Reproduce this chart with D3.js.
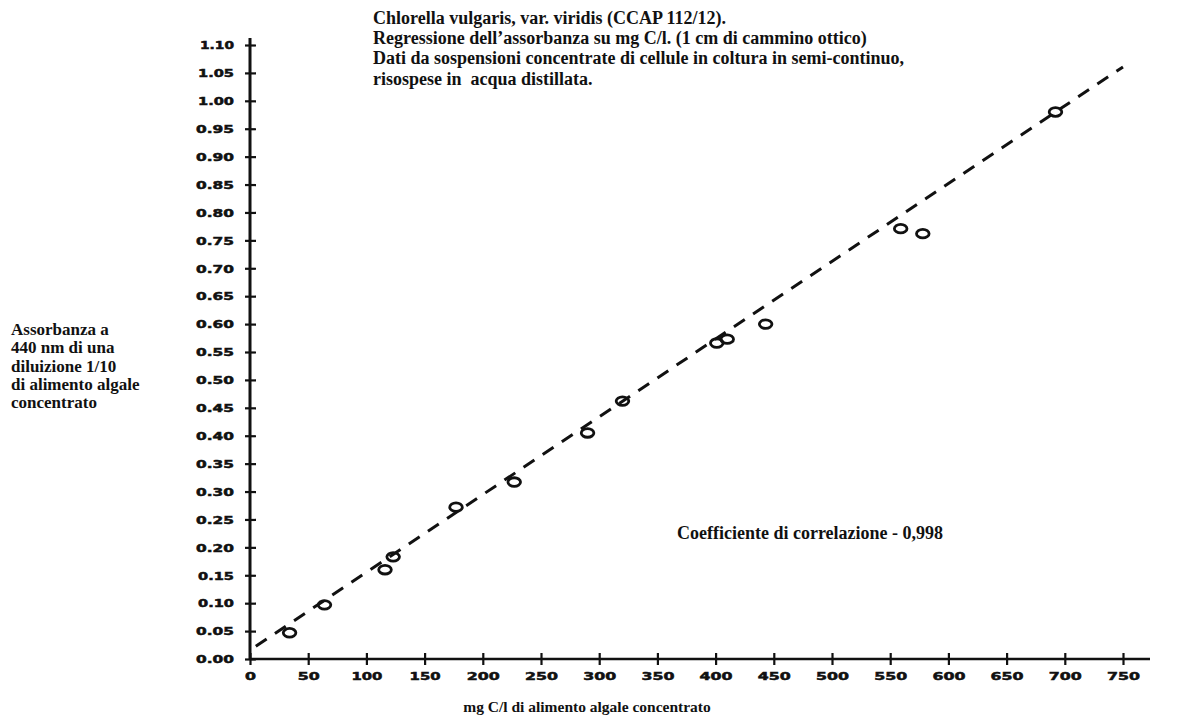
<!DOCTYPE html>
<html>
<head>
<meta charset="utf-8">
<script src="https://cdn.jsdelivr.net/npm/d3@7"></script>
<style>
  html, body { margin: 0; padding: 0; background: #fff; }
  svg { display: block; }
</style>
</head>
<body>
<svg id="chart" width="1180" height="722"></svg>
<script>
// Values.
const concentrations = [34, 64, 116, 123, 177, 227, 290, 320, 401, 410, 443, 559, 578, 692];
const absorbances = [0.047, 0.097, 0.160, 0.183, 0.272, 0.317, 0.405, 0.462, 0.566, 0.573, 0.600, 0.771, 0.762, 0.980];

const xTicks = [0, 50, 100, 150, 200, 250, 300, 350, 400, 450, 500, 550, 600, 650, 700, 750];
const yTicks = [0, 0.05, 0.10, 0.15, 0.20, 0.25, 0.30, 0.35, 0.40, 0.45, 0.50, 0.55, 0.60, 0.65,
  0.70, 0.75, 0.80, 0.85, 0.90, 0.95, 1.00, 1.05, 1.10];

// regression line drawn in the figure
const fitIntercept = 0.016;
const fitSlope = 0.001393;
const fitRange = [5, 750];

const titleLines = [
  "Chlorella vulgaris, var. viridis (CCAP 112/12).",
  "Regressione dell\u2019assorbanza su mg C/l. (1 cm di cammino ottico)",
  "Dati da sospensioni concentrate di cellule in coltura in semi-continuo,",
  "risospese in  acqua distillata."
];
const yTitleLines = [
  "Assorbanza a",
  "440 nm di una",
  "diluizione 1/10",
  "di alimento algale",
  "concentrato"
];
const xTitle = "mg C/l di alimento algale concentrato";
const corrLabel = "Coefficiente di correlazione - 0,998";

const INK = "#111";
const SERIF = "'Liberation Serif', 'Times New Roman', serif";
const TICK_FONT = "'DejaVu Sans', Verdana, sans-serif";

const svg = d3.select("#chart");

const x = d3.scaleLinear().domain([0, 750]).range([250, 1123]);
const y = d3.scaleLinear().domain([0, 1.10]).range([659, 45]);

// the tick labels in the scan are a squat, wide, heavy face -- stretch them
function tickWidth(s) {
  let w = 0;
  for (const c of s) w += c === "." ? 5 : c === "1" ? 9 : 11;
  return w;
}

function styleTickText(sel, fmt) {
  sel.attr("fill", INK)
    .attr("stroke", INK)
    .attr("stroke-width", 0.5)
    .attr("font-family", TICK_FONT)
    .attr("font-weight", "bold")
    .attr("font-size", 10.5)
    .attr("textLength", d => tickWidth(fmt(d)))
    .attr("lengthAdjust", "spacingAndGlyphs");
}

// x axis
const xFmt = d3.format("d");
const xAxisG = svg.append("g")
  .attr("transform", `translate(0,${y(0)})`)
  .call(d3.axisBottom(x).tickValues(xTicks).tickFormat(xFmt).tickSize(0));
xAxisG.select(".domain").remove();
xAxisG.append("line")
  .attr("x1", x(0)).attr("x2", 1150)
  .attr("stroke", INK).attr("stroke-width", 2.5);
xAxisG.selectAll(".tick line")
  .attr("y1", -6).attr("y2", 6)
  .attr("stroke", INK).attr("stroke-width", 2.2);
xAxisG.selectAll(".tick text")
  .attr("y", 21).attr("dy", 0)
  .call(styleTickText, xFmt);

// y axis
const yFmt = d3.format(".2f");
const yAxisG = svg.append("g")
  .attr("transform", `translate(${x(0)},0)`)
  .call(d3.axisLeft(y).tickValues(yTicks).tickFormat(yFmt).tickSize(0));
yAxisG.select(".domain").remove();
yAxisG.append("line")
  .attr("y1", y(0)).attr("y2", 38)
  .attr("stroke", INK).attr("stroke-width", 3);
yAxisG.selectAll(".tick line")
  .attr("x1", -5).attr("x2", 6)
  .attr("stroke", INK).attr("stroke-width", 2.2);
yAxisG.selectAll(".tick text")
  .attr("x", -16).attr("dy", "0.36em")
  .call(styleTickText, yFmt);
svg.selectAll(".tick text").attr("font-family", TICK_FONT).attr("font-size", 10.5);

// regression line
const fitLine = d3.line()
  .x(d => x(d))
  .y(d => y(fitIntercept + fitSlope * d));
svg.append("path")
  .datum(fitRange)
  .attr("d", fitLine)
  .attr("fill", "none")
  .attr("stroke", INK)
  .attr("stroke-width", 3)
  .attr("stroke-dasharray", "13 10");

// data points: open ellipses
svg.append("g")
  .selectAll("ellipse")
  .data(concentrations)
  .join("ellipse")
  .attr("cx", d => x(d))
  .attr("cy", (d, i) => y(absorbances[i]))
  .attr("rx", 6.3)
  .attr("ry", 4.3)
  .attr("fill", "none")
  .attr("stroke", INK)
  .attr("stroke-width", 2.8);

// title block
svg.append("text")
  .attr("font-family", SERIF).attr("font-weight", "bold").attr("font-size", 18)
  .attr("fill", INK)
  .style("white-space", "pre")
  .selectAll("tspan")
  .data(titleLines)
  .join("tspan")
  .attr("x", 373)
  .attr("y", (d, i) => 24 + i * 20.2)
  .text(d => d);

svg.append("text")
  .attr("font-family", SERIF).attr("font-weight", "bold").attr("font-size", 17)
  .attr("fill", INK)
  .selectAll("tspan")
  .data(yTitleLines)
  .join("tspan")
  .attr("x", 11)
  .attr("y", (d, i) => 335 + i * 18.3)
  .text(d => d);

svg.append("text")
  .attr("x", 587).attr("y", 712)
  .attr("text-anchor", "middle")
  .attr("font-family", SERIF).attr("font-weight", "bold").attr("font-size", 15.5)
  .attr("fill", INK)
  .text(xTitle);

svg.append("text")
  .attr("x", 677).attr("y", 539)
  .attr("font-family", SERIF).attr("font-weight", "bold").attr("font-size", 18)
  .attr("fill", INK)
  .text(corrLabel);
</script>
</body>
</html>
